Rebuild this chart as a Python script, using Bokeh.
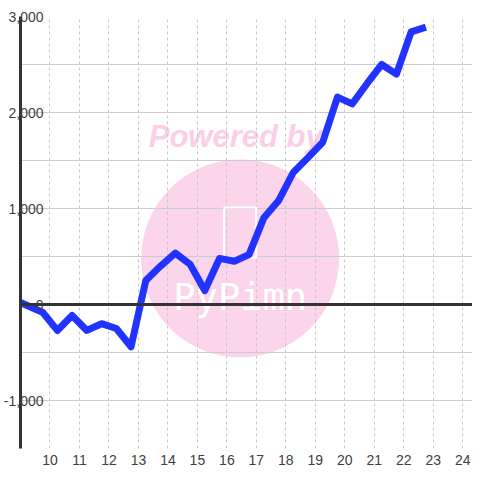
from bokeh.plotting import figure
from bokeh.models import FixedTicker, NumeralTickFormatter, Span, Range1d
from bokeh.core.properties import value
from bokeh.embed import file_html
from bokeh.resources import INLINE

# ---- data ----
x_vals = [9.0, 9.75, 10.25, 10.75, 11.25, 11.75, 12.25, 12.75, 13.25, 13.75,
          14.25, 14.75, 15.25, 15.75, 16.25, 16.75, 17.25, 17.75, 18.25, 18.75,
          19.25, 19.75, 20.25, 20.75, 21.25, 21.75, 22.25, 22.75]
y_vals = [20, -80, -270, -115, -270, -200, -250, -440, 250, 400,
          535, 420, 145, 480, 450, 520, 900, 1080, 1375, 1530,
          1690, 2160, 2090, 2300, 2500, 2400, 2840, 2890]
x_ticks = list(range(10, 25))
y_label_ticks = [-1000, 0, 1000, 2000, 3000]
y_grid_ticks = [-1500, -1000, -500, 0, 500, 1000, 1500, 2000, 2500, 3000]

# watermark (decoration) positions in data units
wm_circle_x, wm_circle_y = [16.45], [480]
wm_title_x, wm_title_y = [16.3], [1750]
wm_name_x, wm_name_y = [16.45], [70]
wm_icon_x, wm_icon_y = [16.45], [750]

p = figure(frame_width=452, frame_height=432, output_backend="svg",
           toolbar_location=None, x_range=Range1d(9, 24.33),
           y_range=Range1d(-1500, 3000))
p.min_border_left = 12
p.min_border_top = 16
p.min_border_right = 0
p.min_border_bottom = 16
p.outline_line_color = None
p.background_fill_color = "white"
p.border_fill_color = "white"

# watermark
p.circle(wm_circle_x, wm_circle_y, radius=99, radius_units="screen",
         fill_color="#fbd5eb", line_color=None, level="image")
p.text(wm_title_x, wm_title_y, text=["Powered by"], text_align="center",
       text_baseline="alphabetic", text_font=value("Liberation Sans"),
       text_font_style="bold italic", text_font_size="31px",
       text_color="#fbcfe7", level="image")
p.rect(wm_icon_x, wm_icon_y, width=32, height=50, width_units="screen",
       height_units="screen", fill_color=None, line_color="white",
       line_width=2)
p.text(wm_name_x, wm_name_y, text=["PyPimn"], text_align="center",
       text_baseline="alphabetic", text_font=value("DejaVu Sans Mono"),
       text_font_size="37px", text_color="white")

# grids
p.ygrid.ticker = FixedTicker(ticks=y_grid_ticks)
p.ygrid.grid_line_color = "#cccccc"
p.ygrid.grid_line_width = 1
p.xgrid.ticker = FixedTicker(ticks=x_ticks)
p.xgrid.grid_line_color = "#c8c8c8"
p.xgrid.grid_line_dash = "3 3"

# zero line
p.add_layout(Span(location=0, dimension="width", line_color="#333333",
                  line_width=3))

# data line
p.line(x_vals, y_vals, line_color="#2233ff", line_width=7,
       line_join="round")

# axes
ya = p.yaxis[0]
ya.ticker = FixedTicker(ticks=y_label_ticks)
ya.formatter = NumeralTickFormatter(format="0,0")
ya.axis_line_color = "#333333"
ya.axis_line_width = 3
ya.major_tick_line_color = None
ya.minor_tick_line_color = None
ya.major_tick_out = 0
ya.major_tick_in = 0
ya.major_label_standoff = -23
ya.major_label_text_font = "Liberation Sans"
ya.major_label_text_font_size = "14px"
ya.major_label_text_color = "#404040"

xa = p.xaxis[0]
xa.ticker = FixedTicker(ticks=x_ticks)
xa.axis_line_color = None
xa.major_tick_line_color = None
xa.minor_tick_line_color = None
xa.major_tick_out = 0
xa.major_tick_in = 0
xa.major_label_standoff = 6
xa.major_label_text_font = "Liberation Sans"
xa.major_label_text_font_size = "14px"
xa.major_label_text_color = "#404040"

open("out.html", "w").write(file_html(p, INLINE))
